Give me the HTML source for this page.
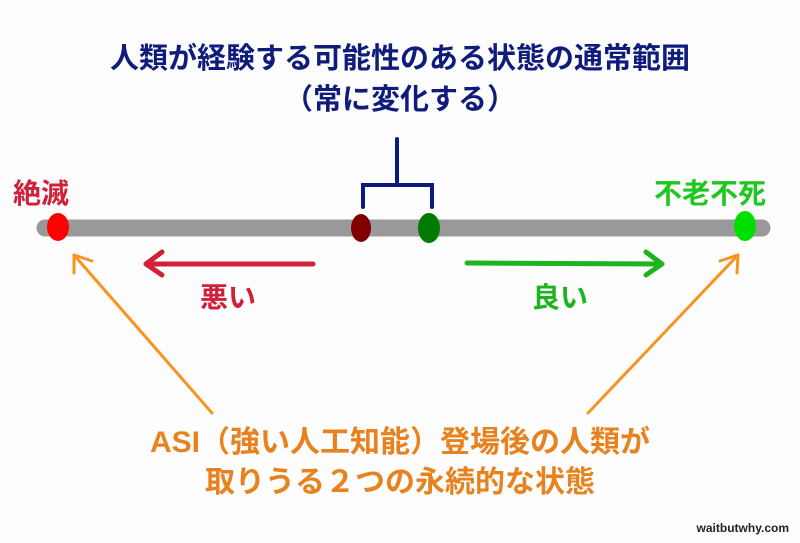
<!DOCTYPE html>
<html><head><meta charset="utf-8"><style>
html,body{margin:0;padding:0;background:#fff;}
svg{display:block;}
text{font-family:"Liberation Sans","Noto Sans CJK JP",sans-serif;font-weight:bold;}
</style></head><body>
<svg width="800" height="543" viewBox="0 0 800 543">
<rect width="800" height="543" fill="#fdfdfd"/>
<text x="400" y="68" font-size="29" fill="#0f1c7c" text-anchor="middle">人類が経験する可能性のある状態の通常範囲</text>
<text x="400" y="109" font-size="29" fill="#0f1c7c" text-anchor="middle">（常に変化する）</text>
<g stroke="#0a1a80" stroke-width="4" fill="none" stroke-linecap="round">
<line x1="397" y1="139" x2="397" y2="184"/>
<polyline points="363,207 363,185 432,185 432,207"/>
</g>
<line x1="45" y1="228" x2="762" y2="228" stroke="#999" stroke-width="17" stroke-linecap="round"/>
<ellipse cx="58" cy="227" rx="11" ry="14" fill="#ff0000"/>
<ellipse cx="361" cy="228" rx="10" ry="14" fill="#800000"/>
<ellipse cx="429" cy="228" rx="11" ry="15" fill="#007a00"/>
<ellipse cx="745" cy="226" rx="11" ry="15" fill="#00e000"/>
<text x="13" y="203" font-size="28" fill="#d0203a">絶滅</text>
<text x="654" y="203" font-size="28" fill="#1ec81e">不老不死</text>
<g stroke="#d0203a" stroke-width="5" fill="none" stroke-linecap="round" stroke-linejoin="round">
<line x1="313" y1="264" x2="146" y2="264"/><polyline points="162,252 146,264 162,275"/>
</g>
<text x="228" y="307" font-size="28" fill="#d0203a" text-anchor="middle">悪い</text>
<g stroke="#1eb41e" stroke-width="5" fill="none" stroke-linecap="round" stroke-linejoin="round">
<line x1="467" y1="263" x2="662" y2="264"/><polyline points="646,252 662,264 646,275"/>
</g>
<text x="560" y="307" font-size="28" fill="#1eb41e" text-anchor="middle">良い</text>
<g stroke="#f7931e" stroke-width="3" fill="none" stroke-linecap="round" stroke-linejoin="round">
<line x1="212" y1="413" x2="74" y2="255"/><polyline points="74,273 74,255 92,261"/>
<line x1="588" y1="413" x2="738" y2="255"/><polyline points="720,261 738,255 737,273"/>
</g>
<text x="400" y="452" font-size="30" fill="#e8821e" text-anchor="middle">ASI（強い人工知能）登場後の人類が</text>
<text x="400" y="492" font-size="30" fill="#e8821e" text-anchor="middle">取りうる２つの永続的な状態</text>
<text x="789" y="532" font-size="12" fill="#222" text-anchor="end">waitbutwhy.com</text>
</svg>
</body></html>
